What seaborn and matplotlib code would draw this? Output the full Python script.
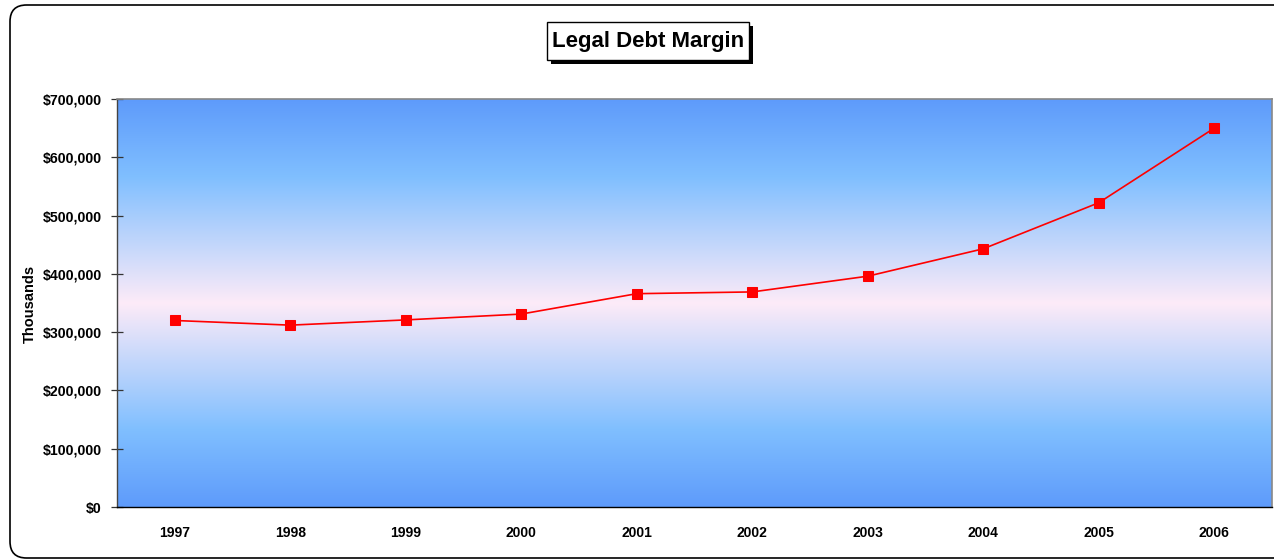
import numpy as np
import pandas as pd
import matplotlib
matplotlib.use('Agg')
import matplotlib.pyplot as plt
import seaborn as sns
from matplotlib.colors import LinearSegmentedColormap
from matplotlib.patches import FancyBboxPatch
from matplotlib.ticker import FuncFormatter

# data (thousands of dollars)
years = ['1997', '1998', '1999', '2000', '2001', '2002', '2003', '2004', '2005', '2006']
margin = [320000, 312000, 321000, 331000, 366000, 369000, 396000, 443000, 522000, 650000]

df = pd.DataFrame({'year': years, 'margin': margin})

sns.set_style('white')
plt.rcParams['font.family'] = ['Liberation Sans', 'DejaVu Sans']
plt.rcParams['font.weight'] = 'bold'
plt.rcParams['text.color'] = 'black'
plt.rcParams['xtick.color'] = 'black'
plt.rcParams['ytick.color'] = 'black'
plt.rcParams['xtick.labelcolor'] = 'black'
plt.rcParams['ytick.labelcolor'] = 'black'

W, H = 1274, 560
fig = plt.figure(figsize=(W / 100, H / 100), dpi=100)


def px_rect(x0, y0, x1, y1, **kw):
    # rectangle given in pixel coords measured from the top-left corner
    return plt.Rectangle((x0 / W, 1 - y1 / H), (x1 - x0) / W, (y1 - y0) / H,
                         transform=fig.transFigure, **kw)


# rounded outer frame (right side runs off the canvas)
frame = FancyBboxPatch((10 / W, 2 / H), 1.2, 553 / H,
                       boxstyle='round,pad=0,rounding_size=0.013',
                       transform=fig.transFigure, facecolor='white',
                       edgecolor='black', linewidth=1.2, mutation_aspect=W / H,
                       zorder=-3)
fig.patches.append(frame)

ax = fig.add_axes([117 / W, 1 - 507 / H, 1155 / W, 408 / H])

# vertical gradient background
cmap = LinearSegmentedColormap.from_list('bg', [
    (0.0, '#5e9bfb'), (0.19, '#80bfff'), (0.5, '#fdebf8'),
    (0.81, '#80bfff'), (1.0, '#5e9bfb')])
grad = np.linspace(0, 1, 256).reshape(-1, 1)
ax.imshow(grad, cmap=cmap, aspect='auto', extent=(-0.5, 9.5, 0, 700000),
          origin='lower', zorder=0, interpolation='bicubic')

sns.lineplot(data=df, x='year', y='margin', ax=ax, color='#ff0000',
             linewidth=1.2, marker='s', markersize=7, markeredgecolor='#ff0000',
             zorder=3)

ax.set_xlim(-0.5, 9.5)
ax.set_ylim(0, 700000)
ax.set_yticks(np.arange(0, 700001, 100000))
ax.yaxis.set_major_formatter(FuncFormatter(lambda v, p: '${:,.0f}'.format(v)))
ax.set_xticks(range(len(years)))
ax.set_xticklabels(years)
ax.set_xticks(np.arange(-0.5, 10, 1), minor=True)
ax.tick_params(axis='x', which='major', length=0, pad=14, labelsize=10)
ax.tick_params(axis='x', which='minor', length=7, direction='inout', width=0.9, color='black')
ax.tick_params(axis='y', length=8, direction='inout', width=0.9, color='#333333',
               pad=7, labelsize=10.2, left=True)
for lab in ax.get_xticklabels() + ax.get_yticklabels():
    lab.set_fontweight('bold')
ax.set_xlabel('')
ax.set_ylabel('')

for side in ['top', 'right']:
    ax.spines[side].set_color('#888888')
    ax.spines[side].set_linewidth(1.2)
ax.spines['left'].set_color('#444444')
ax.spines['bottom'].set_color('black')
for side in ['left', 'bottom']:
    ax.spines[side].set_linewidth(1.0)

fig.text(30 / W, 1 - 304 / H, 'Thousands', rotation=90, ha='center', va='center',
         fontsize=10.5, fontweight='bold', color='black')

# title box with drop shadow
fig.patches.append(px_rect(551, 26, 753, 64, facecolor='black', edgecolor='none', zorder=-2))
fig.patches.append(px_rect(547, 22, 749, 60, facecolor='white', edgecolor='black',
                           linewidth=1.0, zorder=-1))
fig.text(648 / W, 1 - 42 / H, 'Legal Debt Margin', ha='center', va='center',
         fontsize=16, fontweight='bold', color='black', zorder=5)

fig.savefig('out.png', dpi=100, facecolor='white')
